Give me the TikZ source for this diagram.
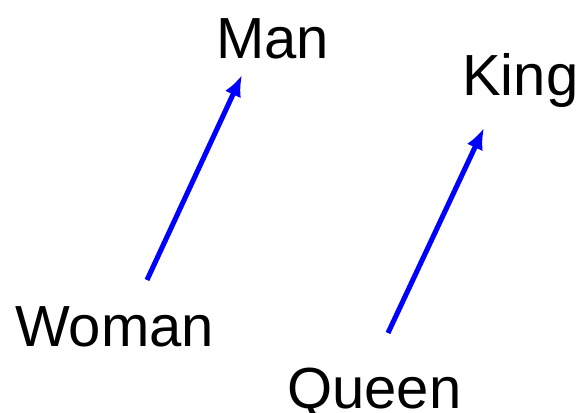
\documentclass[tikz,border=0pt]{standalone}
\usepackage{fontspec}
\setmainfont{Liberation Sans}
\usepackage{tikz}
\usetikzlibrary{arrows.meta}
\definecolor{vecblue}{rgb}{0, 0, 1}

\begin{document}
\begin{tikzpicture}[
			x=0.75pt, y=-0.75pt,
			word/.style={anchor=base west, inner sep=0pt, font=\fontsize{43.5}{50}\selectfont},
			vec/.style={draw=vecblue, line width=3.8pt, -{Latex[length=16pt,width=13pt]}},
		]

		\useasboundingbox (0,0) rectangle (582,412);

		\node[word] (man)   at (216,58)  {Man};
		\node[word] (king)  at (462,95)  {King};
		\node[word] (woman) at (15,346)  {Woman};
		\node[word] (queen) at (287,408) {Queen};

		\coordinate (w0) at (147,280);
		\coordinate (m0) at (242,75);
		\coordinate (q0) at (388,333);
		\coordinate (k0) at (484,128);

		\draw[vec] (w0) -- (m0);
		\draw[vec] (q0) -- (k0);

		\end{tikzpicture}
\end{document}
